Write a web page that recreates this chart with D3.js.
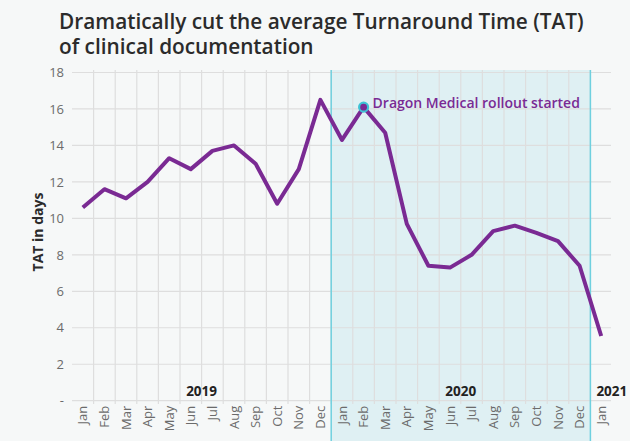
<!DOCTYPE html>
<html><head><meta charset="utf-8">
<script src="https://cdn.jsdelivr.net/npm/d3@7"></script>
<style>
html,body{margin:0;padding:0;background:#f6f8f8;}
svg{display:block;font-family:"Open Sans",sans-serif;}
</style></head>
<body>
<svg id="chart" width="630" height="441"></svg>
<script>
const months = ["Jan","Feb","Mar","Apr","May","Jun","Jul","Aug","Sep","Oct","Nov","Dec",
                "Jan","Feb","Mar","Apr","May","Jun","Jul","Aug","Sep","Oct","Nov","Dec","Jan"];
const years = ["2019","2019","2019","2019","2019","2019","2019","2019","2019","2019","2019","2019",
               "2020","2020","2020","2020","2020","2020","2020","2020","2020","2020","2020","2020","2021"];
const tatValues = [10.6,11.6,11.1,12.0,13.3,12.7,13.7,14.0,13.0,10.8,12.7,16.5,
                   14.3,16.1,14.7,9.7,7.4,7.3,8.0,9.3,9.6,9.2,8.75,7.4,3.55];
const yTicks = [0,2,4,6,8,10,12,14,16,18];
const yearLabels = ["2019","2020","2021"];
const titleLines = ["Dramatically cut the average Turnaround Time (TAT)","of clinical documentation"];
const annotationText = "Dragon Medical rollout started";
const annotationIndex = 13;
const shadeStart = 12, shadeEnd = 24;

(function () {
const svg = d3.select("#chart");
const mLeft = 72, mRight = 612, mTop = 72.5, mBottom = 400.7;
const idx = d3.range(months.length);
const x = d3.scaleBand().domain(idx).range([mLeft, mRight]).padding(0);
const y = d3.scaleLinear().domain([0, 18]).range([mBottom, mTop]);
const xc = i => x(i) + x.bandwidth() / 2;

// title (single text element with two tspans)
const title = svg.append("text")
  .attr("font-size", 20.8).attr("font-weight", 600).attr("fill", "#2b2b2b");
title.selectAll("tspan").data(titleLines).join("tspan")
  .attr("x", 59).attr("y", (d, i) => 28.5 + i * 25.5)
  .text(d => d);

// shaded region
svg.append("rect")
  .attr("x", x(shadeStart)).attr("y", 70)
  .attr("width", x(shadeEnd) - x(shadeStart)).attr("height", 441 - 70)
  .attr("fill", "#dff0f3");

// horizontal gridlines
svg.append("g").selectAll("line").data(yTicks).join("line")
  .attr("x1", mLeft).attr("x2", mRight - 1)
  .attr("y1", d => y(d)).attr("y2", d => y(d))
  .attr("stroke", "#dedede").attr("stroke-width", 1.2);

// vertical gridlines at band boundaries
svg.append("g").selectAll("line").data(d3.range(1, months.length)).join("line")
  .attr("x1", d => x(d)).attr("x2", d => x(d))
  .attr("y1", 70).attr("y2", 404)
  .attr("stroke", "#dedede").attr("stroke-width", 1.2);

// cyan boundary lines
svg.append("g").selectAll("line").data([shadeStart, shadeEnd]).join("line")
  .attr("x1", d => x(d)).attr("x2", d => x(d))
  .attr("y1", 70).attr("y2", 441)
  .attr("stroke", "#6fd0df").attr("stroke-width", 1.5);

// y axis
const yAxis = d3.axisLeft(y).tickValues(yTicks).tickSize(0).tickPadding(8)
  .tickFormat(d => d === 0 ? "-" : d);
const yg = svg.append("g").attr("transform", `translate(${mLeft},0)`).call(yAxis);
yg.select(".domain").remove();
yg.selectAll("text").attr("font-size", 13).attr("fill", "#6b6b6b")
  .attr("font-family", "Open Sans, sans-serif");

// y axis title
svg.append("text")
  .attr("transform", "translate(43,232) rotate(-90)")
  .attr("text-anchor", "middle")
  .attr("font-size", 14).attr("font-weight", 700).attr("fill", "#2b2b2b")
  .text("TAT in days");

// x axis month labels
const xAxis = d3.axisBottom(x).tickSize(0).tickPadding(0).tickFormat(i => months[i]);
const xg = svg.append("g").attr("transform", `translate(0,${mBottom})`).call(xAxis);
xg.select(".domain").remove();
xg.selectAll("text")
  .attr("font-size", 13).attr("fill", "#6b6b6b")
  .attr("font-family", "Open Sans, sans-serif")
  .attr("text-anchor", "end")
  .attr("dy", "0.35em")
  .attr("transform", "translate(0,5) rotate(-90)")
  .attr("x", 0).attr("y", 0);

// year labels
const yearPos = yearLabels.map(yr => {
  const ids = idx.filter(i => years[i] === yr);
  const s = x(ids[0]), e = x(ids[ids.length - 1]) + x.bandwidth();
  return {yr, s, e, n: ids.length};
});
svg.append("g").selectAll("text").data(yearPos).join("text")
  .attr("x", d => d.n > 1 ? (d.s + d.e) / 2 : d.s + 6)
  .attr("y", 396)
  .attr("text-anchor", d => d.n > 1 ? "middle" : "start")
  .attr("font-size", 13.5).attr("font-weight", 700).attr("fill", "#222")
  .text(d => d.yr);

// line
const line = d3.line().x((d, i) => xc(i)).y(d => y(d));
svg.append("path").datum(tatValues)
  .attr("d", line)
  .attr("fill", "none").attr("stroke", "#7a2a93").attr("stroke-width", 4)
  .attr("stroke-linejoin", "round");

// annotation marker
svg.append("circle")
  .attr("cx", xc(annotationIndex)).attr("cy", y(tatValues[annotationIndex]))
  .attr("r", 4.5).attr("fill", "#7a2a93")
  .attr("stroke", "#3ec3d5").attr("stroke-width", 2.2);

svg.append("text")
  .attr("x", xc(annotationIndex) + 9).attr("y", y(tatValues[annotationIndex]) + 1)
  .attr("font-size", 14).attr("font-weight", 600).attr("fill", "#7a2a93")
  .text(annotationText);
})();
</script>
</body></html>
